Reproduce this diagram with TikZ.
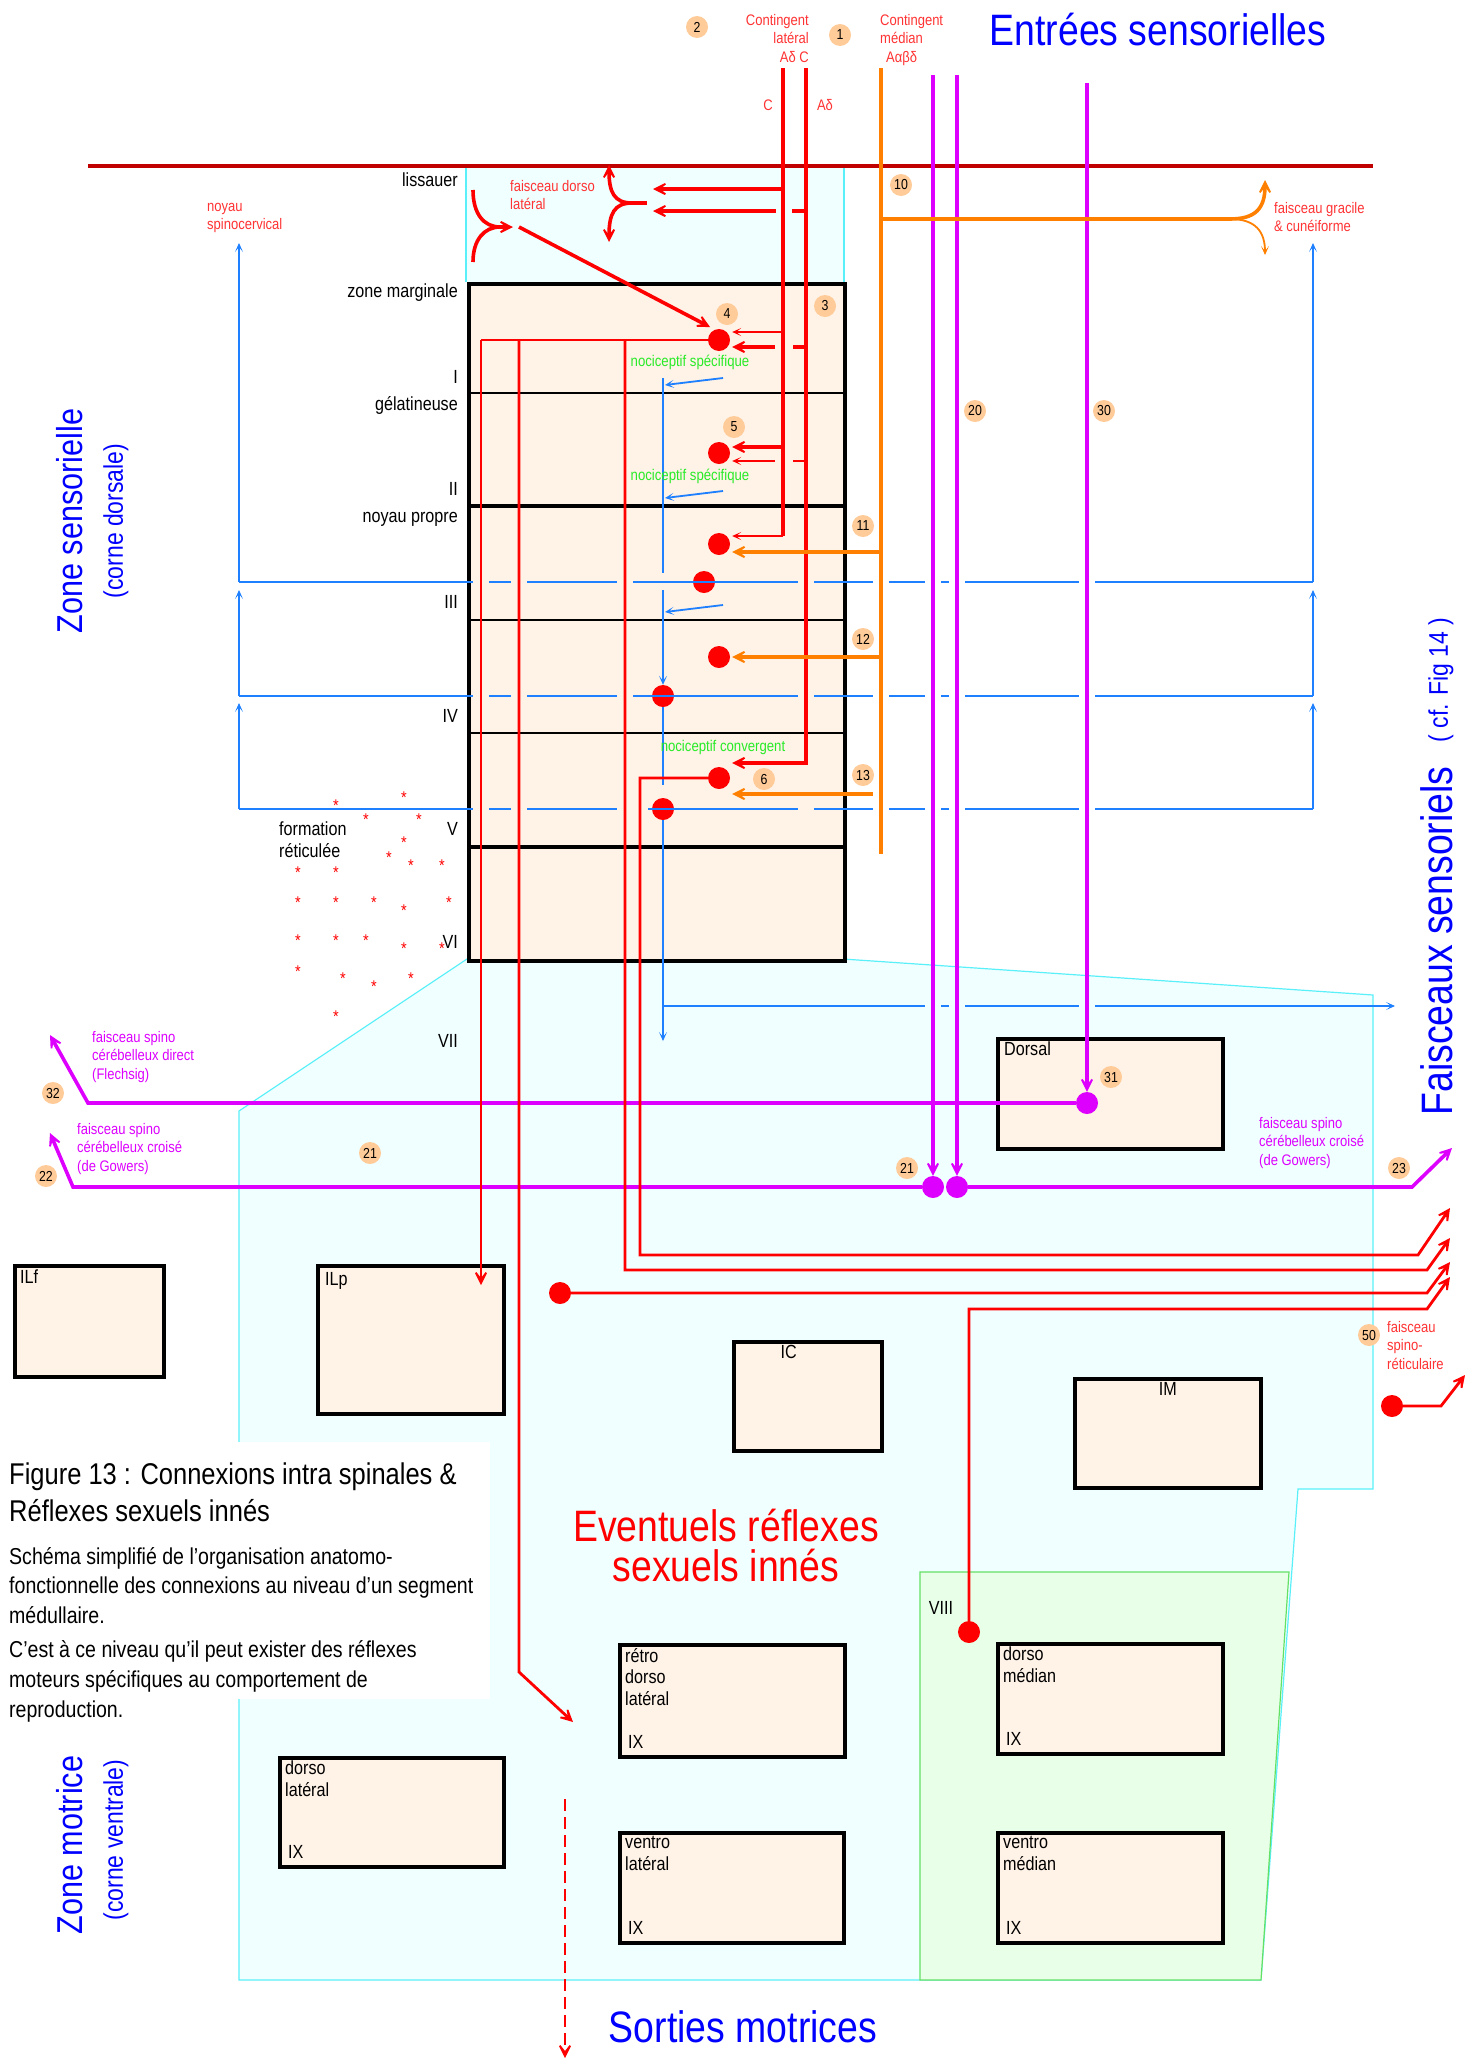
\documentclass[tikz,border=0pt]{standalone}
\usepackage{fontspec}
\setmainfont{Liberation Sans}[FakeStretch=0.85]
\usetikzlibrary{arrows.meta, calc}
\definecolor{cordcol}{RGB}{192,0,0}
\definecolor{nocicol}{RGB}{255,0,0}
\definecolor{nocitxt}{RGB}{255,51,51}
\definecolor{lemnicol}{RGB}{255,128,0}
\definecolor{cerebcol}{RGB}{221,0,255}
\definecolor{proprocol}{RGB}{30,128,255}
\definecolor{notecol}{RGB}{40,235,40}
\definecolor{laminabg}{RGB}{255,242,230}
\definecolor{greybg}{RGB}{240,255,255}
\definecolor{greyedge}{RGB}{90,240,250}
\definecolor{motorbg}{RGB}{232,255,232}
\definecolor{motoredge}{RGB}{100,225,100}
\definecolor{badgecol}{RGB}{255,204,153}
\definecolor{titlecol}{RGB}{0,0,255}

\begin{document}
\begin{tikzpicture}[
    x=1pt, y=-1pt,
    nocifib/.style={draw=nocicol, line width=3.6pt},
    nocimid/.style={draw=nocicol, line width=2.8pt},
    nocithin/.style={draw=nocicol, line width=1.6pt},
    lemnfib/.style={draw=lemnicol, line width=3.6pt},
    cerebfib/.style={draw=cerebcol, line width=3.6pt},
    proprofib/.style={draw=proprocol, line width=1.8pt},
    bigtip/.style={-{Stealth[length=20pt, width=20pt, inset=13pt]}},
    smalltip/.style={-{Stealth[length=9pt, width=8pt, inset=5pt]}},
    cell/.style={circle, fill=nocicol, inner sep=0pt, minimum size=22pt},
    mcell/.style={circle, fill=cerebcol, inner sep=0pt, minimum size=22pt},
    badge/.style={circle, fill=badgecol, inner sep=0pt, minimum size=22pt,
        font=\fontsize{14.5}{14.5}\selectfont},
    nucbox/.style={rectangle, draw=black, line width=3.5pt, fill=laminabg,
        inner sep=0pt, anchor=north west},
    boxtxt/.style={font=\fontsize{19}{21.5}\selectfont, inner sep=0pt, align=left},
    laytxt/.style={font=\fontsize{19}{22}\selectfont, inner sep=0pt, align=left},
    redtxt/.style={text=nocitxt, font=\fontsize{15.3}{18.5}\selectfont, inner sep=0pt, align=left},
    mtxt/.style={text=cerebcol, font=\fontsize{15.3}{18.5}\selectfont, inner sep=0pt, align=left},
    notetxt/.style={text=notecol, font=\fontsize{15.5}{15.5}\selectfont, inner sep=0pt},
    headtxt/.style={text=titlecol, font=\fontsize{44}{44}\selectfont, inner sep=0pt},
    sidetxt/.style={text=titlecol, font=\fontsize{36}{36}\selectfont, inner sep=0pt},
    subtxt/.style={text=titlecol, font=\fontsize{27}{27}\selectfont, inner sep=0pt},
    retstar/.style={text=nocicol, font=\fontsize{17}{17}\selectfont, inner sep=0pt},
]

\path[use as bounding box, fill=white] (0,0) rectangle (1479,2067);

% ════════════════════════════════════════════════════════
% 0. GREY MATTER
% ════════════════════════════════════════════════════════
\fill[greybg] (466,166) rectangle (844,282);
\draw[greyedge, line width=1.2pt] (466,166) -- (466,282) (844,166) -- (844,282);
\filldraw[fill=greybg, draw=greyedge, line width=1.2pt]
    (467,959) -- (239,1111) -- (239,1980) -- (1261,1980) -- (1298,1489)
    -- (1373,1489) -- (1373,995) -- (843,959) -- cycle;
\filldraw[fill=motorbg, draw=motoredge, line width=1.2pt]
    (920,1572) -- (1289,1572) -- (1261,1980) -- (920,1980) -- cycle;
\fill[white] (0,1442) rectangle (490,1699);

% dorsal root entry line
\draw[cordcol, line width=3.5pt] (88,166) -- (1373,166);

% laminae I to VI
\node[nucbox, minimum width=376pt, minimum height=677pt] (lamina) at (467,282) {};
\draw[line width=1.1pt] (467,393) -- (843,393) (467,620) -- (843,620) (467,733) -- (843,733);
\draw[line width=3.5pt] (467,506) -- (843,506) (467,847) -- (843,847);

% nuclei
\node[nucbox, minimum width=149pt, minimum height=111pt] (ILf) at (13,1264) {};
\node[nucbox, minimum width=186pt, minimum height=148pt] (ILp) at (316,1264) {};
\node[nucbox, minimum width=148pt, minimum height=109pt] (IC) at (732,1340) {};
\node[nucbox, minimum width=186pt, minimum height=109pt] (IM) at (1073,1377) {};
\node[nucbox, minimum width=225pt, minimum height=110pt] (dorsal) at (996,1037) {};
\node[nucbox, minimum width=225pt, minimum height=112pt] (rdl) at (618,1643) {};
\node[nucbox, minimum width=224pt, minimum height=109pt] (dl) at (278,1756) {};
\node[nucbox, minimum width=224pt, minimum height=110pt] (vl) at (618,1831) {};
\node[nucbox, minimum width=225pt, minimum height=110pt] (dm) at (996,1642) {};
\node[nucbox, minimum width=225pt, minimum height=110pt] (vm) at (996,1831) {};

\node[boxtxt, anchor=north west] (ILflab) at ($(ILf.north west)+(7,6)$) {ILf};
\node[boxtxt, anchor=north west] (ILplab) at ($(ILp.north west)+(9,8)$) {ILp};
\node[boxtxt, anchor=north] (IClab) at ($(IC.north)+(-19,5)$) {IC};
\node[boxtxt, anchor=north] (IMlab) at ($(IM.north)+(0,5)$) {IM};
\node[boxtxt, anchor=north west] (dorsallab) at ($(dorsal.north west)+(8,5)$) {Dorsal};
\node[boxtxt, anchor=north west] (rdllab) at ($(rdl.north west)+(7,5)$) {rétro\\dorso\\latéral};
\node[boxtxt, anchor=north west] (dllab) at ($(dl.north west)+(7,5)$) {dorso\\latéral};
\node[boxtxt, anchor=north west] (vllab) at ($(vl.north west)+(7,5)$) {ventro\\latéral};
\node[boxtxt, anchor=north west] (dmlab) at ($(dm.north west)+(7,5)$) {dorso\\médian};
\node[boxtxt, anchor=north west] (vmlab) at ($(vm.north west)+(7,5)$) {ventro\\médian};
\foreach \nb in {rdl, dl, vl, dm, vm}
  \node[boxtxt, anchor=south west] (\nb IX) at ($(\nb.south west)+(10,-10)$) {IX};

% ════════════════════════════════════════════════════════
% 1. SPINOCEREBELLAR (magenta)
% ════════════════════════════════════════════════════════
\node[mcell] (m31) at (1087,1103) {};
\node[mcell] (m21a) at (933,1187) {};
\node[mcell] (m21b) at (957,1187) {};
\draw[cerebfib, bigtip] (m31.west) -- (88,1103) -- (50,1035);
\draw[cerebfib, bigtip] (m21a.west) -- (73,1187) -- (50,1133);
\draw[cerebfib, bigtip] (m21b.east) -- (1412,1187) -- (1452,1148);
\draw[cerebfib, bigtip] (933,75) -- (m21a.north);
\draw[cerebfib, bigtip] (957,75) -- (m21b.north);
\draw[cerebfib, bigtip] (1087,83) -- (m31.north);

% ════════════════════════════════════════════════════════
% 2. PROPRIO / INTERNEURONS (blue)
% ════════════════════════════════════════════════════════
\node[cell] (dp1) at (704,582) {};
\node[cell] (dp2) at (663,696) {};
\node[cell] (dp3) at (663,809) {};
% levels, broken where fibres cross
\draw[proprofib] (239,582) -- (473,582) (489,582) -- (511,582) (527,582) -- (617,582)
    (633,582) -- (798,582) (814,582) -- (873,582) (889,582) -- (925,582)
    (941,582) -- (949,582) (965,582) -- (1079,582) (1095,582) -- (1313,582);
\draw[proprofib] (239,696) -- (473,696) (489,696) -- (511,696) (527,696) -- (617,696)
    (633,696) -- (798,696) (814,696) -- (873,696) (889,696) -- (925,696)
    (941,696) -- (949,696) (965,696) -- (1079,696) (1095,696) -- (1313,696);
\draw[proprofib] (239,809) -- (473,809) (489,809) -- (511,809) (527,809) -- (617,809)
    (648,809) -- (798,809) (814,809) -- (873,809) (889,809) -- (925,809)
    (941,809) -- (949,809) (965,809) -- (1079,809) (1095,809) -- (1313,809);
\foreach \sx in {239, 1313} {
  \draw[proprofib, smalltip] (\sx,582) -- (\sx,243);
  \draw[proprofib, smalltip] (\sx,696) -- (\sx,590);
  \draw[proprofib, smalltip] (\sx,809) -- (\sx,703);
}
\draw[proprofib] (663,378) -- (663,573);
\draw[proprofib, smalltip] (663,590) -- (dp2.north);
\draw[proprofib] (dp2.south) -- (663,785);
\draw[proprofib, smalltip] (dp3) -- (663,1041);
\draw[proprofib] (663,1006) -- (925,1006) (941,1006) -- (949,1006) (965,1006) -- (1079,1006);
\draw[proprofib, smalltip] (1095,1006) -- (1395,1006);
\draw[proprofib, smalltip] (723,378) -- (665,385);
\draw[proprofib, smalltip] (723,491) -- (665,498);
\draw[proprofib, smalltip] (723,605) -- (665,612);

% ════════════════════════════════════════════════════════
% 3. NOCICEPTIVE CELLS AND FIBRES (red)
% ════════════════════════════════════════════════════════
\node[cell] (d4) at (719,340) {};
\node[cell] (d5) at (719,453) {};
\node[cell] (d11) at (719,544) {};
\node[cell] (d12) at (719,657) {};
\node[cell] (d6) at (719,778) {};
\node[cell] (dret) at (560,1293) {};
\node[cell] (d8) at (969,1632) {};
\node[cell] (dsr) at (1392,1406) {};

\coordinate (Ctop) at (783,68);
\coordinate (Adtop) at (806,68);
\draw[nocifib] (Ctop) -- (783,536);
\draw[nocimid, smalltip] (783,536) -- ($(d11.east)+(2,-8)$);
\draw[nocithin, smalltip] (783,332) -- ($(d4.east)+(2,-8)$);
\draw[nocifib, bigtip] (783,447) -- ($(d5.east)+(2,-6)$);
\draw[nocifib, bigtip] (Adtop) -- (806,763) -- ($(d6.east)+(2,-15)$);
\draw[nocifib] (806,347) -- (793,347);
\draw[nocifib, bigtip] (775,347) -- ($(d4.east)+(2,7)$);
\draw[nocithin] (806,461) -- (793,461);
\draw[nocithin, smalltip] (775,461) -- ($(d5.east)+(2,8)$);

% Lissauer tract
\draw[nocifib, bigtip] (783,189) -- (653,189);
\draw[nocifib] (806,211) -- (792,211);
\draw[nocifib, bigtip] (776,211) -- (653,211);
\coordinate (dlfork) at (632,203);
\draw[nocifib] (647,203) -- (dlfork);
\draw[nocifib, bigtip] (dlfork) .. controls (614,203) and (609,192) .. (609,165);
\draw[nocifib, bigtip] (dlfork) .. controls (614,203) and (609,214) .. (609,242);
\coordinate (dlmerge) at (513,227);
\draw[nocifib] (473,190) .. controls (473,214) and (484,227) .. (500,227);
\draw[nocifib] (473,262) .. controls (473,240) and (484,227) .. (500,227);
\draw[nocifib, bigtip] (490,227) -- (dlmerge);
\draw[nocifib, bigtip] (519,227) -- ($(d4.north west)+(-1,-5)$);

% projections of the dorsal horn cells
\draw[nocimid] (d4.west) -- (481,340);
\draw[nocimid, bigtip] (481,340) -- (481,1285);
\draw[nocimid, bigtip] (519,340) -- (519,1672) -- (573,1722);
\draw[nocimid, bigtip] (625,340) -- (625,1270) -- (1427,1270) -- (1450,1238);
\draw[nocimid, bigtip] (d6.west) -- (640,778) -- (640,1255) -- (1418,1255) -- (1450,1208);
\draw[nocimid, bigtip] (dret) -- (1427,1293) -- (1450,1262);
\draw[nocimid, bigtip] (d8) -- (969,1309) -- (1427,1309) -- (1450,1277);
\draw[nocimid, bigtip] (dsr) -- (1441,1406) -- (1465,1375);
\draw[nocimid, dash pattern=on 12pt off 6pt, bigtip] (565,1799) -- (565,2058);

% ════════════════════════════════════════════════════════
% 4. MEDIAN CONTINGENT (orange)
% ════════════════════════════════════════════════════════
\draw[lemnfib] (881,68) -- (881,854);
\coordinate (gracfork) at (1230,219);
\draw[lemnfib] (881,219) -- (gracfork);
\draw[lemnfib, bigtip] (gracfork) .. controls (1256,219) and (1265,208) .. (1265,180);
\draw[draw=lemnicol, line width=1.8pt, smalltip] (gracfork) .. controls (1256,219) and (1265,232) .. (1265,255);
\draw[lemnfib, bigtip] (881,552) -- ($(d11.east)+(2,8)$);
\draw[lemnfib, bigtip] (881,657) -- ($(d12.east)+(2,0)$);
\draw[lemnfib, bigtip] (873,794) -- ($(d6.east)+(2,16)$);

% ════════════════════════════════════════════════════════
% 5. NUMBERS AND LABELS
% ════════════════════════════════════════════════════════
\foreach \bx/\by/\bn [count=\i] in {697/27/2, 840/35/1, 901/185/10, 825/306/3,
    727/314/4, 734/427/5, 863/526/11, 863/639/12, 863/775/13, 764/779/6,
    975/411/20, 1104/411/30, 1111/1077/31, 907/1168/21, 370/1153/21,
    53/1093/32, 46/1176/22, 1399/1168/23, 1369/1335/50}
  \node[badge] (bdg\i) at (\bx,\by) {\bn};

\node[redtxt, anchor=north east, align=right] (latcont) at (809,14)
    {Contingent\\latéral\\Aδ C\hspace{7pt}};
\node[redtxt, anchor=north west] (medcont) at (880,14)
    {Contingent\\médian\\\hspace{6pt}Aαβδ};
\node[redtxt] (Clab) at (768,105) {C};
\node[redtxt] (Adlab) at (825,105) {Aδ};
\node[redtxt, anchor=north west] (dltxt) at (510,180) {faisceau dorso\\latéral};
\node[redtxt, anchor=north west] (spcerv) at (207,203) {noyau\\spinocervical};
\node[redtxt, anchor=north west] (gracil) at (1274,202) {faisceau gracile\\\& cunéiforme};
\node[redtxt, anchor=north west] (spret) at (1387,1321) {faisceau\\spino-\\réticulaire};
\node[mtxt, anchor=north west] (flech) at (92,1031) {faisceau spino\\cérébelleux direct\\(Flechsig)};
\node[mtxt, anchor=north west] (gowl) at (77,1123) {faisceau spino\\cérébelleux croisé\\(de Gowers)};
\node[mtxt, anchor=north west] (gowr) at (1259,1117) {faisceau spino\\cérébelleux croisé\\(de Gowers)};

\node[notetxt] (nspec1) at (690,362) {nociceptif spécifique};
\node[notetxt] (nspec2) at (690,476) {nociceptif spécifique};
\node[notetxt] (nconv) at (723,747) {nociceptif convergent};

% layers
\foreach \ly/\lt [count=\i] in {180/lissauer, 293/zone marginale, 377/I, 405/gélatineuse,
    489/II, 519/noyau propre, 602/III, 716/IV, 829/V, 942/VI}
  \node[laytxt, anchor=east] (lay\i) at (458,\ly) {\lt};
\node[laytxt] (lay7) at (448,1041) {VII};
\node[laytxt, anchor=north west] (reticf) at (279,822) {formation\\réticulée};
\node[laytxt, text=black] (viii) at (941,1608) {VIII};

% reticular formation
\foreach \sx/\sy [count=\i] in {404/798, 336/806, 366/820, 419/820, 404/843, 389/858,
    411/866, 442/866, 298/873, 336/873, 298/903, 336/903, 374/903, 449/903, 404/911,
    298/941, 336/941, 366/941, 404/949, 442/949, 298/972, 343/979, 374/987, 411/979, 336/1017}
  \node[retstar] (st\i) at (\sx,\sy) {*};

% titles
\node[headtxt] (intitle) at (1158,30) {Entrées sensorielles};
\node[headtxt] (outtitle) at (743,2027) {Sorties motrices};
\node[headtxt, rotate=90] (fsens) at (1437,941) {Faisceaux sensoriels};
\node[subtxt, rotate=90] (fcf) at (1441,680) {( cf. Fig 14 )};
\node[sidetxt, rotate=90] (zsens) at (70,521) {Zone sensorielle};
\node[subtxt, rotate=90] (zsensb) at (116,521) {(corne dorsale)};
\node[sidetxt, rotate=90] (zmot) at (70,1845) {Zone motrice};
\node[subtxt, rotate=90] (zmotb) at (116,1840) {(corne ventrale)};
\node[text=nocicol, font=\fontsize{44}{40}\selectfont, align=center, inner sep=0pt]
    (reflex) at (726,1545) {Eventuels réflexes\\sexuels innés};

% caption
\node[font=\fontsize{30}{37}\selectfont, align=left, inner sep=0pt, anchor=north west]
    (figtitle) at (9,1463) {Figure 13 : Connexions intra spinales \&\\Réflexes sexuels innés};
\node[font=\fontsize{23}{29.5}\selectfont, align=left, inner sep=0pt, anchor=north west]
    (figpar1) at (9,1547) {Schéma simplifié de l'organisation anatomo-\\fonctionnelle des connexions au niveau d'un segment\\médullaire.};
\node[font=\fontsize{23}{30}\selectfont, align=left, inner sep=0pt, anchor=north west]
    (figpar2) at (9,1640) {C'est à ce niveau qu'il peut exister des réflexes\\moteurs spécifiques au comportement de\\reproduction.};

\end{tikzpicture}
\end{document}
